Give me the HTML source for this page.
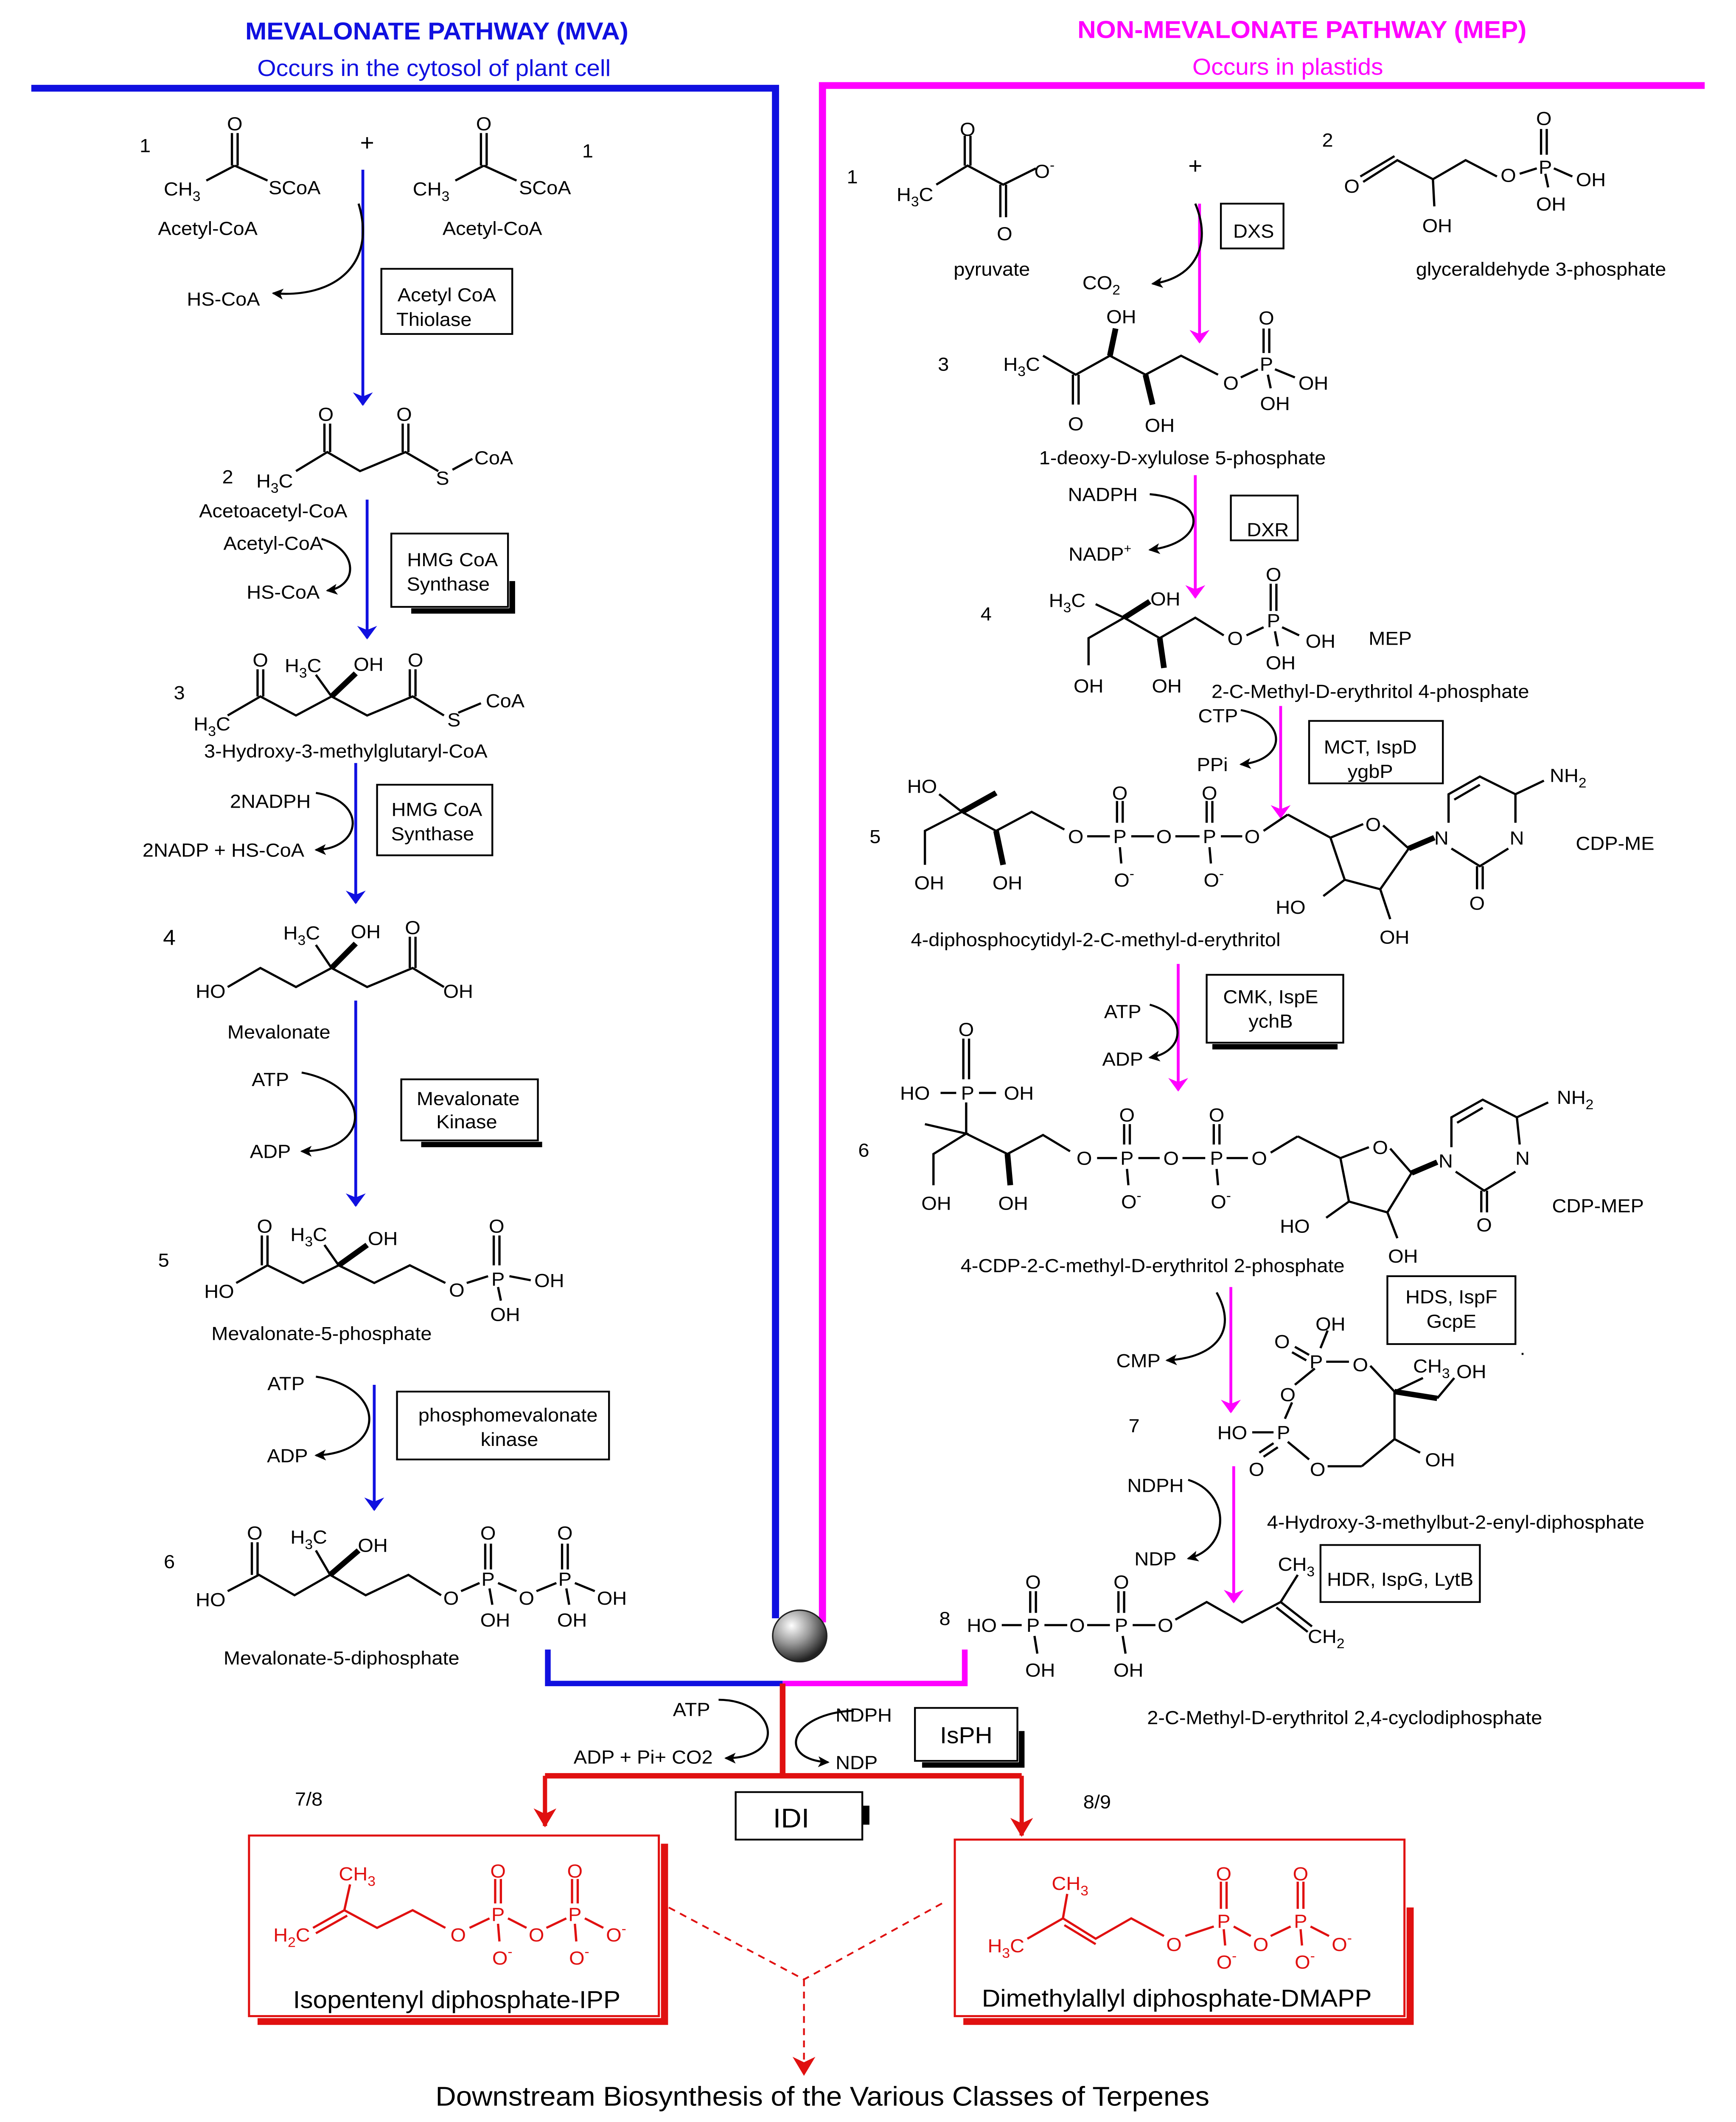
<!DOCTYPE html>
<html><head><meta charset="utf-8"><style>
html,body{margin:0;padding:0;background:#fff;width:100vw;height:100vh;overflow:hidden}
svg{display:block;position:absolute;left:0;top:0;width:100vw;height:100vh}
text{font-family:"Liberation Sans",Arial,sans-serif;font-size:14px;fill:#000}
.m{text-anchor:middle}
.b line,.b polyline,.b path{stroke:#000;stroke-width:1.6;fill:none}
.r line,.r polyline{stroke:#e01010;stroke-width:1.6;fill:none}
.r text{fill:#e01010}
</style></head><body>
<svg viewBox="0 0 1220 1563" preserveAspectRatio="none" xmlns="http://www.w3.org/2000/svg">
<defs>
<marker id="ab" markerWidth="10" markerHeight="14" refX="9" refY="7" orient="auto" markerUnits="userSpaceOnUse"><path d="M0,0 L10,7 L0,14 L3,7z" fill="#1010e0"/></marker>
<marker id="am" markerWidth="10" markerHeight="14" refX="9" refY="7" orient="auto" markerUnits="userSpaceOnUse"><path d="M0,0 L10,7 L0,14 L3,7z" fill="#ff00ff"/></marker>
<marker id="ar" markerWidth="14" markerHeight="16" refX="13" refY="8" orient="auto" markerUnits="userSpaceOnUse"><path d="M0,0 L14,8 L0,16 L4,8z" fill="#e01010"/></marker>
<marker id="ak" markerWidth="8" markerHeight="8" refX="7" refY="4" orient="auto" markerUnits="userSpaceOnUse"><path d="M0,0 L8,4 L0,8 L2,4z" fill="#000"/></marker>
<radialGradient id="ball" cx="0.35" cy="0.3" r="0.7"><stop offset="0" stop-color="#fff"/><stop offset="0.5" stop-color="#999"/><stop offset="1" stop-color="#222"/></radialGradient>
</defs>
<rect width="1220" height="1563" fill="#fff"/>

<text x="307" y="29" class="m" style="font-size:18px;font-weight:bold;fill:#1010e0">MEVALONATE PATHWAY (MVA)</text>
<text x="305" y="56" class="m" style="font-size:17px;fill:#1010e0">Occurs in the cytosol of plant cell</text>
<text x="915" y="28" class="m" style="font-size:18px;font-weight:bold;fill:#ff00ff">NON-MEVALONATE PATHWAY (MEP)</text>
<text x="905" y="55" class="m" style="font-size:17px;fill:#ff00ff">Occurs in plastids</text>

<polyline points="22,65 545,65 545,1192" stroke="#1010e0" stroke-width="5" fill="none"/>
<polyline points="1198,63 578,63 578,1195" stroke="#ff00ff" stroke-width="5" fill="none"/>
<polyline points="385,1215 385,1240 550,1240" stroke="#1010e0" stroke-width="4" fill="none"/>
<polyline points="678,1215 678,1240 550,1240" stroke="#ff00ff" stroke-width="4" fill="none"/>
<circle cx="562" cy="1205" r="19" fill="url(#ball)" stroke="#222" stroke-width="1"/>

<line x1="550" y1="1240" x2="550" y2="1308" stroke="#e01010" stroke-width="4"/>
<line x1="383" y1="1308" x2="718" y2="1308" stroke="#e01010" stroke-width="4"/>
<line x1="383" y1="1308" x2="383" y2="1345" stroke="#e01010" stroke-width="3" marker-end="url(#ar)"/>
<line x1="718" y1="1308" x2="718" y2="1352" stroke="#e01010" stroke-width="3" marker-end="url(#ar)"/>

<g stroke="#1010e0" stroke-width="2" fill="none">
<line x1="255" y1="125" x2="255" y2="298" marker-end="url(#ab)"/>
<line x1="258" y1="368" x2="258" y2="470" marker-end="url(#ab)"/>
<line x1="250" y1="562" x2="250" y2="665" marker-end="url(#ab)"/>
<line x1="250" y1="737" x2="250" y2="888" marker-end="url(#ab)"/>
<line x1="263" y1="1020" x2="263" y2="1112" marker-end="url(#ab)"/>
</g>
<g stroke="#ff00ff" stroke-width="2" fill="none">
<line x1="843" y1="150" x2="843" y2="252" marker-end="url(#am)"/>
<line x1="840" y1="350" x2="840" y2="440" marker-end="url(#am)"/>
<line x1="900" y1="520" x2="900" y2="602" marker-end="url(#am)"/>
<line x1="828" y1="710" x2="828" y2="803" marker-end="url(#am)"/>
<line x1="865" y1="948" x2="865" y2="1040" marker-end="url(#am)"/>
<line x1="867" y1="1080" x2="867" y2="1180" marker-end="url(#am)"/>
</g>

<g stroke="#000" stroke-width="1.5" fill="none">
<path d="M252,150 C265,195 235,220 192,216" marker-end="url(#ak)"/>
<path d="M226,397 C252,405 252,432 230,435" marker-end="url(#ak)"/>
<path d="M222,584 C258,590 255,625 222,626" marker-end="url(#ak)"/>
<path d="M212,790 C262,800 262,848 212,848" marker-end="url(#ak)"/>
<path d="M222,1014 C272,1022 272,1070 222,1072" marker-end="url(#ak)"/>
<path d="M840,150 C852,180 840,205 810,209" marker-end="url(#ak)"/>
<path d="M808,364 C850,368 848,400 808,405" marker-end="url(#ak)"/>
<path d="M872,523 C905,530 905,560 872,563" marker-end="url(#ak)"/>
<path d="M808,740 C835,748 833,775 808,779" marker-end="url(#ak)"/>
<path d="M855,952 C870,980 855,1000 820,1002" marker-end="url(#ak)"/>
<path d="M835,1090 C865,1100 865,1140 835,1148" marker-end="url(#ak)"/>
<path d="M505,1252 C545,1252 555,1295 510,1295" marker-end="url(#ak)"/>
<path d="M600,1260 C555,1262 545,1296 582,1298" marker-end="url(#ak)"/>
</g>

<g fill="none" stroke="#000" stroke-width="1.3">
<rect x="268" y="198" width="92" height="48"/>
<rect x="275" y="393" width="82" height="54"/>
<rect x="265" y="578" width="81" height="52"/>
<rect x="282" y="795" width="96" height="45"/>
<rect x="279" y="1025" width="149" height="50"/>
<rect x="858" y="150" width="44" height="33"/>
<rect x="865" y="365" width="47" height="33"/>
<rect x="920" y="531" width="94" height="46"/>
<rect x="848" y="718" width="96" height="50"/>
<rect x="975" y="940" width="90" height="50"/>
<rect x="928" y="1138" width="112" height="42"/>
<rect x="643" y="1258" width="72" height="39"/>
<rect x="517" y="1320" width="89" height="35"/>
</g>
<g stroke="#000" stroke-width="4" fill="none">
<polyline points="289,450 360,450 360,428"/>
<polyline points="296,843 381,843"/>
<polyline points="852,771 940,771"/>
<polyline points="648,1300 718,1300 718,1275"/>
</g>
<rect x="606" y="1330" width="5" height="14" fill="#000"/>
<text x="314" y="222" class="m">Acetyl CoA</text><text x="305" y="240" class="m">Thiolase</text>
<text x="318" y="417" class="m">HMG CoA</text><text x="315" y="435" class="m">Synthase</text>
<text x="307" y="601" class="m">HMG CoA</text><text x="304" y="619" class="m">Synthase</text>
<text x="329" y="814" class="m">Mevalonate</text><text x="328" y="831" class="m">Kinase</text>
<text x="357" y="1047" class="m">phosphomevalonate</text><text x="358" y="1065" class="m">kinase</text>
<text x="881" y="175" class="m">DXS</text>
<text x="891" y="395" class="m">DXR</text>
<text x="963" y="555" class="m">MCT, IspD</text><text x="963" y="573" class="m">ygbP</text>
<text x="893" y="739" class="m">CMK, IspE</text><text x="893" y="757" class="m">ychB</text>
<text x="1020" y="960" class="m">HDS, IspF</text><text x="1020" y="978" class="m">GcpE</text>
<text x="984" y="1168" class="m">HDR, IspG, LytB</text>
<text x="679" y="1284" class="m" style="font-size:17px">IsPH</text>
<text x="556" y="1346" class="m" style="font-size:20px">IDI</text>

<text x="157" y="225" class="m">HS-CoA</text>
<text x="192" y="405" class="m">Acetyl-CoA</text>
<text x="199" y="441" class="m">HS-CoA</text>
<text x="190" y="595" class="m">2NADPH</text>
<text x="157" y="631" class="m">2NADP + HS-CoA</text>
<text x="190" y="800" class="m">ATP</text><text x="190" y="853" class="m">ADP</text>
<text x="201" y="1024" class="m">ATP</text><text x="202" y="1077" class="m">ADP</text>
<text x="774" y="213" class="m">CO<tspan dy="4" style="font-size:10px">2</tspan></text>
<text x="775" y="369" class="m">NADPH</text>
<text x="773" y="413" class="m">NADP<tspan dy="-6" style="font-size:9px">+</tspan></text>
<text x="856" y="532" class="m">CTP</text><text x="852" y="568" class="m">PPi</text>
<text x="789" y="750" class="m">ATP</text><text x="789" y="785" class="m">ADP</text>
<text x="800" y="1007" class="m">CMP</text>
<text x="812" y="1099" class="m">NDPH</text><text x="812" y="1153" class="m">NDP</text>
<text x="486" y="1264" class="m">ATP</text>
<text x="607" y="1268" class="m">NDPH</text>
<text x="452" y="1299" class="m">ADP + Pi+ CO2</text>
<text x="602" y="1303" class="m">NDP</text>
<text x="217" y="1330" class="m">7/8</text>
<text x="771" y="1332" class="m">8/9</text>

<g class="b">
<line x1="145" y1="133" x2="165" y2="122"/><line x1="165" y1="122" x2="188" y2="133"/>
<line x1="163" y1="98" x2="163" y2="122"/><line x1="167" y1="98" x2="167" y2="122"/>
<line x1="320" y1="133" x2="340" y2="122"/><line x1="340" y1="122" x2="363" y2="133"/>
<line x1="338" y1="98" x2="338" y2="122"/><line x1="342" y1="98" x2="342" y2="122"/>
<polyline points="208,347 230,333 253,347 285,333 308,347"/>
<line x1="228" y1="312" x2="228" y2="333"/><line x1="232" y1="312" x2="232" y2="333"/>
<line x1="283" y1="312" x2="283" y2="333"/><line x1="287" y1="312" x2="287" y2="333"/>
<line x1="318" y1="346" x2="332" y2="338"/>
<polyline points="160,527 183,513 208,527 233,513 258,527 290,513 312,527"/>
<line x1="181" y1="493" x2="181" y2="513"/><line x1="185" y1="493" x2="185" y2="513"/>
<line x1="288" y1="493" x2="288" y2="513"/><line x1="292" y1="493" x2="292" y2="513"/>
<line x1="233" y1="513" x2="222" y2="497"/><line x1="233" y1="513" x2="250" y2="496" style="stroke-width:4"/>
<line x1="322" y1="525" x2="338" y2="518"/>
<polyline points="160,727 183,713 208,727 233,713 258,727 290,713 312,727"/>
<line x1="288" y1="690" x2="288" y2="713"/><line x1="292" y1="690" x2="292" y2="713"/>
<line x1="233" y1="713" x2="222" y2="696"/><line x1="233" y1="713" x2="250" y2="695" style="stroke-width:4"/>
<polyline points="166,945 188,932 213,945 238,932 263,945 288,932 313,945"/>
<line x1="184" y1="910" x2="184" y2="932"/><line x1="188" y1="910" x2="188" y2="932"/>
<line x1="238" y1="932" x2="228" y2="917"/><line x1="238" y1="932" x2="258" y2="917" style="stroke-width:4"/>
<line x1="328" y1="945" x2="343" y2="940"/><line x1="358" y1="940" x2="373" y2="943"/>
<line x1="347" y1="910" x2="347" y2="932"/><line x1="351" y1="910" x2="351" y2="932"/>
<line x1="350" y1="948" x2="352" y2="958"/>
<polyline points="160,1172 182,1160 207,1175 232,1160 257,1175 287,1160 310,1175"/>
<line x1="177" y1="1136" x2="177" y2="1160"/><line x1="181" y1="1136" x2="181" y2="1160"/>
<line x1="232" y1="1160" x2="222" y2="1142"/><line x1="232" y1="1160" x2="252" y2="1142" style="stroke-width:4"/>
<line x1="324" y1="1172" x2="337" y2="1166"/><line x1="350" y1="1166" x2="363" y2="1172"/>
<line x1="377" y1="1172" x2="391" y2="1166"/><line x1="404" y1="1166" x2="418" y2="1172"/>
<line x1="341" y1="1137" x2="341" y2="1156"/><line x1="345" y1="1137" x2="345" y2="1156"/>
<line x1="395" y1="1137" x2="395" y2="1156"/><line x1="399" y1="1137" x2="399" y2="1156"/>
<line x1="344" y1="1170" x2="346" y2="1182"/><line x1="398" y1="1170" x2="400" y2="1182"/>
</g>
<text x="102" y="112" class="m">1</text>
<text x="165" y="96" class="m">O</text>
<text x="128" y="144" class="m">CH<tspan dy="4" style="font-size:10px">3</tspan></text>
<text x="207" y="143" class="m">SCoA</text>
<text x="258" y="111" class="m" style="font-size:17px">+</text>
<text x="340" y="96" class="m">O</text>
<text x="303" y="144" class="m">CH<tspan dy="4" style="font-size:10px">3</tspan></text>
<text x="383" y="143" class="m">SCoA</text>
<text x="413" y="116" class="m">1</text>
<text x="146" y="173" class="m">Acetyl-CoA</text>
<text x="346" y="173" class="m">Acetyl-CoA</text>

<text x="160" y="356" class="m">2</text>
<text x="193" y="359" class="m">H<tspan dy="4" style="font-size:10px">3</tspan><tspan dy="-4">C</tspan></text>
<text x="229" y="310" class="m">O</text><text x="284" y="310" class="m">O</text>
<text x="311" y="357" class="m">S</text><text x="347" y="342" class="m">CoA</text>
<text x="192" y="381" class="m">Acetoacetyl-CoA</text>

<text x="126" y="515" class="m">3</text>
<text x="149" y="538" class="m">H<tspan dy="4" style="font-size:10px">3</tspan><tspan dy="-4">C</tspan></text>
<text x="183" y="491" class="m">O</text><text x="292" y="491" class="m">O</text>
<text x="213" y="495" class="m">H<tspan dy="4" style="font-size:10px">3</tspan><tspan dy="-4">C</tspan></text>
<text x="259" y="494" class="m">OH</text>
<text x="319" y="535" class="m">S</text><text x="355" y="521" class="m">CoA</text>
<text x="243" y="558" class="m">3-Hydroxy-3-methylglutaryl-CoA</text>

<text x="119" y="696" class="m" style="font-size:16px">4</text>
<text x="148" y="735" class="m">HO</text>
<text x="212" y="692" class="m">H<tspan dy="4" style="font-size:10px">3</tspan><tspan dy="-4">C</tspan></text>
<text x="257" y="691" class="m">OH</text>
<text x="290" y="688" class="m">O</text>
<text x="322" y="735" class="m">OH</text>
<text x="196" y="765" class="m">Mevalonate</text>

<text x="115" y="933" class="m">5</text>
<text x="154" y="956" class="m">HO</text>
<text x="186" y="908" class="m">O</text>
<text x="217" y="914" class="m">H<tspan dy="4" style="font-size:10px">3</tspan><tspan dy="-4">C</tspan></text>
<text x="269" y="917" class="m">OH</text>
<text x="321" y="955" class="m">O</text><text x="350" y="947" class="m">P</text>
<text x="349" y="908" class="m">O</text><text x="386" y="948" class="m">OH</text>
<text x="355" y="973" class="m">OH</text>
<text x="226" y="987" class="m">Mevalonate-5-phosphate</text>

<text x="119" y="1155" class="m">6</text>
<text x="148" y="1183" class="m">HO</text>
<text x="179" y="1134" class="m">O</text>
<text x="217" y="1137" class="m">H<tspan dy="4" style="font-size:10px">3</tspan><tspan dy="-4">C</tspan></text>
<text x="262" y="1143" class="m">OH</text>
<text x="317" y="1182" class="m">O</text><text x="343" y="1168" class="m">P</text>
<text x="370" y="1182" class="m">O</text><text x="397" y="1168" class="m">P</text>
<text x="430" y="1182" class="m">OH</text>
<text x="343" y="1134" class="m">O</text><text x="397" y="1134" class="m">O</text>
<text x="348" y="1198" class="m">OH</text><text x="402" y="1198" class="m">OH</text>
<text x="240" y="1226" class="m">Mevalonate-5-diphosphate</text>

<g class="b">
<polyline points="658,136 680,122 705,136 728,124"/>
<line x1="678" y1="100" x2="678" y2="122"/><line x1="682" y1="100" x2="682" y2="122"/>
<line x1="703" y1="136" x2="703" y2="160"/><line x1="707" y1="136" x2="707" y2="160"/>
<polyline points="958,134 982,118 1007,132 1030,118 1052,130"/>
<line x1="956" y1="130" x2="980" y2="115"/>
<line x1="1007" y1="132" x2="1008" y2="152"/>
<line x1="1068" y1="128" x2="1080" y2="124"/><line x1="1092" y1="124" x2="1105" y2="130"/>
<line x1="1083" y1="95" x2="1083" y2="114"/><line x1="1087" y1="95" x2="1087" y2="114"/>
<line x1="1086" y1="128" x2="1088" y2="138"/>
<polyline points="733,262 756,276 780,262 805,276 830,262 856,276"/>
<line x1="754" y1="276" x2="754" y2="298"/><line x1="758" y1="276" x2="758" y2="298"/>
<line x1="780" y1="262" x2="784" y2="242" style="stroke-width:4"/>
<line x1="805" y1="276" x2="810" y2="298" style="stroke-width:4"/>
<line x1="872" y1="278" x2="884" y2="272"/><line x1="896" y1="272" x2="910" y2="278"/>
<line x1="888" y1="242" x2="888" y2="260"/><line x1="892" y1="242" x2="892" y2="260"/>
<line x1="891" y1="276" x2="893" y2="286"/>
<polyline points="765,490 765,470 790,455 815,470 840,455 860,468"/>
<line x1="790" y1="455" x2="770" y2="445"/>
<line x1="790" y1="455" x2="808" y2="443" style="stroke-width:4"/>
<line x1="815" y1="470" x2="818" y2="492" style="stroke-width:4"/>
<line x1="876" y1="468" x2="888" y2="462"/><line x1="901" y1="462" x2="913" y2="468"/>
<line x1="893" y1="430" x2="893" y2="450"/><line x1="897" y1="430" x2="897" y2="450"/>
<line x1="896" y1="465" x2="898" y2="476"/>
<polyline points="660,585 676,598 650,612 650,637"/>
<line x1="676" y1="598" x2="700" y2="584" style="stroke-width:4"/>
<polyline points="676,598 700,612 725,598 748,611"/>
<line x1="700" y1="612" x2="705" y2="637" style="stroke-width:4"/>
<line x1="764" y1="616" x2="780" y2="616"/><line x1="795" y1="616" x2="811" y2="616"/>
<line x1="826" y1="616" x2="843" y2="616"/><line x1="858" y1="616" x2="873" y2="616"/>
<line x1="785" y1="590" x2="785" y2="606"/><line x1="789" y1="590" x2="789" y2="606"/>
<line x1="848" y1="590" x2="848" y2="606"/><line x1="852" y1="590" x2="852" y2="606"/>
<line x1="787" y1="624" x2="788" y2="636"/><line x1="850" y1="624" x2="851" y2="636"/>
<line x1="888" y1="612" x2="905" y2="600"/>
<polyline points="905,600 935,617 958,607"/>
<polyline points="972,608 990,625 970,655 945,648 935,617"/>
<line x1="945" y1="648" x2="930" y2="660"/>
<line x1="970" y1="655" x2="977" y2="677"/>
<line x1="990" y1="625" x2="1008" y2="617" style="stroke-width:4"/>
<polyline points="1018,606 1018,585 1040,572 1065,585 1065,606"/>
<line x1="1022" y1="589" x2="1040" y2="578"/>
<polyline points="1020,625 1040,638 1060,625"/>
<line x1="1038" y1="638" x2="1038" y2="655"/><line x1="1042" y1="638" x2="1042" y2="655"/>
<line x1="1065" y1="585" x2="1085" y2="575"/>
<line x1="661" y1="805" x2="672" y2="805"/><line x1="688" y1="805" x2="700" y2="805"/>
<line x1="677" y1="765" x2="677" y2="795"/><line x1="681" y1="765" x2="681" y2="795"/>
<line x1="679" y1="812" x2="679" y2="835"/>
<polyline points="650,828 679,835 656,850 656,873"/>
<polyline points="679,835 708,850 733,836 752,848"/>
<line x1="708" y1="850" x2="710" y2="873" style="stroke-width:4"/>
<line x1="771" y1="853" x2="785" y2="853"/><line x1="800" y1="853" x2="815" y2="853"/>
<line x1="831" y1="853" x2="847" y2="853"/><line x1="862" y1="853" x2="877" y2="853"/>
<line x1="790" y1="828" x2="790" y2="843"/><line x1="794" y1="828" x2="794" y2="843"/>
<line x1="853" y1="828" x2="853" y2="843"/><line x1="857" y1="828" x2="857" y2="843"/>
<line x1="792" y1="861" x2="793" y2="873"/><line x1="855" y1="861" x2="856" y2="873"/>
<line x1="893" y1="849" x2="912" y2="837"/>
<polyline points="912,837 942,853 962,845"/>
<polyline points="977,846 992,864 975,893 948,885 942,853"/>
<line x1="948" y1="885" x2="932" y2="897"/>
<line x1="975" y1="893" x2="982" y2="912"/>
<line x1="992" y1="864" x2="1010" y2="856" style="stroke-width:4"/>
<polyline points="1020,845 1020,823 1042,810 1066,823 1068,843"/>
<line x1="1024" y1="827" x2="1042" y2="816"/>
<polyline points="1023,863 1043,877 1065,863"/>
<line x1="1041" y1="877" x2="1041" y2="893"/><line x1="1045" y1="877" x2="1045" y2="893"/>
<line x1="1066" y1="823" x2="1088" y2="812"/>
<line x1="928" y1="993" x2="933" y2="980"/>
<line x1="910" y1="992" x2="920" y2="998"/><line x1="908" y1="996" x2="918" y2="1002"/>
<line x1="932" y1="1003" x2="948" y2="1003"/>
<line x1="963" y1="1006" x2="980" y2="1025"/>
<line x1="924" y1="1008" x2="910" y2="1020"/>
<line x1="908" y1="1033" x2="903" y2="1045"/>
<line x1="880" y1="1055" x2="895" y2="1055"/>
<line x1="895" y1="1063" x2="885" y2="1070"/><line x1="898" y1="1066" x2="888" y2="1073"/>
<line x1="905" y1="1062" x2="920" y2="1075"/>
<line x1="933" y1="1080" x2="957" y2="1080"/><line x1="957" y1="1080" x2="980" y2="1060"/>
<line x1="980" y1="1025" x2="980" y2="1060"/>
<line x1="980" y1="1025" x2="1000" y2="1015"/>
<line x1="980" y1="1025" x2="1010" y2="1030" style="stroke-width:4"/>
<line x1="1010" y1="1030" x2="1022" y2="1015"/>
<line x1="980" y1="1060" x2="998" y2="1070"/>
<line x1="704" y1="1197" x2="718" y2="1197"/><line x1="734" y1="1197" x2="750" y2="1197"/>
<line x1="764" y1="1197" x2="780" y2="1197"/><line x1="796" y1="1197" x2="812" y2="1197"/>
<line x1="724" y1="1172" x2="724" y2="1188"/><line x1="728" y1="1172" x2="728" y2="1188"/>
<line x1="786" y1="1172" x2="786" y2="1188"/><line x1="790" y1="1172" x2="790" y2="1188"/>
<line x1="727" y1="1205" x2="729" y2="1218"/><line x1="789" y1="1205" x2="791" y2="1218"/>
<polyline points="826,1193 848,1180 873,1195 900,1180 912,1160"/>
<line x1="900" y1="1180" x2="922" y2="1198"/><line x1="897" y1="1184" x2="919" y2="1202"/>
</g>
<text x="599" y="135" class="m">1</text>
<text x="643" y="148" class="m">H<tspan dy="4" style="font-size:10px">3</tspan><tspan dy="-4">C</tspan></text>
<text x="680" y="100" class="m">O</text>
<text x="734" y="131" class="m">O<tspan dy="-6" style="font-size:10px">-</tspan></text>
<text x="706" y="177" class="m">O</text>
<text x="697" y="203" class="m">pyruvate</text>
<text x="840" y="128" class="m" style="font-size:17px">+</text>
<text x="933" y="108" class="m">2</text>
<text x="950" y="142" class="m">O</text>
<text x="1010" y="171" class="m">OH</text>
<text x="1060" y="134" class="m">O</text>
<text x="1086" y="128" class="m">P</text>
<text x="1085" y="92" class="m">O</text>
<text x="1118" y="137" class="m">OH</text>
<text x="1090" y="155" class="m">OH</text>
<text x="1083" y="203" class="m">glyceraldehyde 3-phosphate</text>

<text x="663" y="273" class="m">3</text>
<text x="718" y="273" class="m">H<tspan dy="4" style="font-size:10px">3</tspan><tspan dy="-4">C</tspan></text>
<text x="788" y="238" class="m">OH</text>
<text x="756" y="317" class="m">O</text>
<text x="815" y="318" class="m">OH</text>
<text x="865" y="287" class="m">O</text><text x="890" y="273" class="m">P</text>
<text x="890" y="239" class="m">O</text><text x="923" y="287" class="m">OH</text>
<text x="896" y="302" class="m">OH</text>
<text x="831" y="342" class="m">1-deoxy-D-xylulose 5-phosphate</text>

<text x="693" y="457" class="m">4</text>
<text x="750" y="447" class="m">H<tspan dy="4" style="font-size:10px">3</tspan><tspan dy="-4">C</tspan></text>
<text x="819" y="446" class="m">OH</text>
<text x="765" y="510" class="m">OH</text>
<text x="820" y="510" class="m">OH</text>
<text x="868" y="475" class="m">O</text><text x="895" y="462" class="m">P</text>
<text x="895" y="428" class="m">O</text><text x="928" y="477" class="m">OH</text>
<text x="900" y="493" class="m">OH</text>
<text x="977" y="475" class="m">MEP</text>
<text x="963" y="514" class="m">2-C-Methyl-D-erythritol 4-phosphate</text>

<text x="615" y="621" class="m">5</text>
<text x="648" y="584" class="m">HO</text>
<text x="653" y="655" class="m">OH</text><text x="708" y="655" class="m">OH</text>
<text x="756" y="621" class="m">O</text><text x="787" y="621" class="m">P</text>
<text x="818" y="621" class="m">O</text><text x="850" y="621" class="m">P</text>
<text x="880" y="621" class="m">O</text>
<text x="787" y="589" class="m">O</text><text x="850" y="589" class="m">O</text>
<text x="790" y="653" class="m">O<tspan dy="-6" style="font-size:10px">-</tspan></text>
<text x="853" y="653" class="m">O<tspan dy="-6" style="font-size:10px">-</tspan></text>
<text x="965" y="612" class="m">O</text>
<text x="907" y="673" class="m">HO</text>
<text x="980" y="695" class="m">OH</text>
<text x="1013" y="622" class="m">N</text><text x="1066" y="622" class="m">N</text>
<text x="1038" y="670" class="m">O</text>
<text x="1102" y="576" class="m">NH<tspan dy="4" style="font-size:10px">2</tspan></text>
<text x="1135" y="626" class="m">CDP-ME</text>
<text x="770" y="697" class="m">4-diphosphocytidyl-2-C-methyl-d-erythritol</text>

<text x="607" y="852" class="m">6</text>
<text x="643" y="810" class="m">HO</text><text x="680" y="810" class="m">P</text>
<text x="716" y="810" class="m">OH</text><text x="679" y="763" class="m">O</text>
<text x="658" y="891" class="m">OH</text><text x="712" y="891" class="m">OH</text>
<text x="762" y="858" class="m">O</text><text x="792" y="858" class="m">P</text>
<text x="823" y="858" class="m">O</text><text x="855" y="858" class="m">P</text>
<text x="885" y="858" class="m">O</text>
<text x="792" y="826" class="m">O</text><text x="855" y="826" class="m">O</text>
<text x="795" y="890" class="m">O<tspan dy="-6" style="font-size:10px">-</tspan></text>
<text x="858" y="890" class="m">O<tspan dy="-6" style="font-size:10px">-</tspan></text>
<text x="970" y="850" class="m">O</text>
<text x="910" y="908" class="m">HO</text><text x="986" y="930" class="m">OH</text>
<text x="1016" y="860" class="m">N</text><text x="1070" y="858" class="m">N</text>
<text x="1043" y="907" class="m">O</text>
<text x="1107" y="813" class="m">NH<tspan dy="4" style="font-size:10px">2</tspan></text>
<text x="1123" y="893" class="m">CDP-MEP</text>
<text x="810" y="937" class="m">4-CDP-2-C-methyl-D-erythritol 2-phosphate</text>

<text x="935" y="980" class="m">OH</text>
<text x="901" y="993" class="m">O</text>
<text x="925" y="1008" class="m">P</text>
<text x="956" y="1010" class="m">O</text>
<text x="1006" y="1011" class="m">CH<tspan dy="4" style="font-size:10px">3</tspan></text>
<text x="1034" y="1015" class="m">OH</text>
<text x="905" y="1032" class="m">O</text>
<text x="866" y="1060" class="m">HO</text><text x="902" y="1060" class="m">P</text>
<text x="883" y="1087" class="m">O</text><text x="926" y="1087" class="m">O</text>
<text x="1012" y="1080" class="m">OH</text>
<text x="797" y="1055" class="m">7</text>
<text x="1023" y="1126" class="m">4-Hydroxy-3-methylbut-2-enyl-diphosphate</text>
<text x="1070" y="998" class="m">.</text>

<text x="664" y="1197" class="m">8</text>
<text x="690" y="1202" class="m">HO</text><text x="726" y="1202" class="m">P</text>
<text x="757" y="1202" class="m">O</text><text x="788" y="1202" class="m">P</text>
<text x="819" y="1202" class="m">O</text>
<text x="726" y="1170" class="m">O</text><text x="788" y="1170" class="m">O</text>
<text x="731" y="1235" class="m">OH</text><text x="793" y="1235" class="m">OH</text>
<text x="911" y="1157" class="m">CH<tspan dy="4" style="font-size:10px">3</tspan></text>
<text x="932" y="1210" class="m">CH<tspan dy="4" style="font-size:10px">2</tspan></text>
<text x="945" y="1270" class="m">2-C-Methyl-D-erythritol 2,4-cyclodiphosphate</text>

<rect x="175" y="1352" width="288" height="133" fill="none" stroke="#e01010" stroke-width="1.5"/>
<polyline points="181,1489 467,1489 467,1358" fill="none" stroke="#e01010" stroke-width="5"/>
<rect x="671" y="1355" width="316" height="130" fill="none" stroke="#e01010" stroke-width="1.5"/>
<polyline points="677,1489 991,1489 991,1405" fill="none" stroke="#e01010" stroke-width="5"/>
<g class="r">
<polyline points="220,1420 242,1407 265,1420 290,1407 313,1420"/>
<line x1="222" y1="1424" x2="244" y2="1411"/>
<line x1="242" y1="1407" x2="246" y2="1388"/>
<line x1="330" y1="1420" x2="344" y2="1413"/><line x1="357" y1="1413" x2="370" y2="1420"/>
<line x1="384" y1="1420" x2="398" y2="1413"/><line x1="411" y1="1413" x2="424" y2="1420"/>
<line x1="348" y1="1384" x2="348" y2="1402"/><line x1="352" y1="1384" x2="352" y2="1402"/>
<line x1="402" y1="1384" x2="402" y2="1402"/><line x1="406" y1="1384" x2="406" y2="1402"/>
<line x1="350" y1="1417" x2="351" y2="1430"/><line x1="404" y1="1417" x2="405" y2="1430"/>
<polyline points="722,1428 747,1413 770,1428 795,1413 818,1426"/>
<line x1="748" y1="1418" x2="770" y2="1432"/>
<line x1="747" y1="1413" x2="750" y2="1395"/>
<line x1="833" y1="1426" x2="853" y2="1419"/><line x1="867" y1="1419" x2="879" y2="1426"/>
<line x1="893" y1="1426" x2="907" y2="1419"/><line x1="921" y1="1419" x2="934" y2="1426"/>
<line x1="858" y1="1386" x2="858" y2="1406"/><line x1="862" y1="1386" x2="862" y2="1406"/>
<line x1="912" y1="1386" x2="912" y2="1406"/><line x1="916" y1="1386" x2="916" y2="1406"/>
<line x1="860" y1="1421" x2="861" y2="1433"/><line x1="914" y1="1421" x2="915" y2="1433"/>
<text x="251" y="1385" class="m">CH<tspan dy="4" style="font-size:10px">3</tspan></text>
<text x="205" y="1430" class="m">H<tspan dy="4" style="font-size:10px">2</tspan><tspan dy="-4">C</tspan></text>
<text x="322" y="1430" class="m">O</text><text x="350" y="1415" class="m">P</text>
<text x="377" y="1430" class="m">O</text><text x="404" y="1415" class="m">P</text>
<text x="433" y="1430" class="m">O<tspan dy="-6" style="font-size:10px">-</tspan></text>
<text x="350" y="1383" class="m">O</text><text x="404" y="1383" class="m">O</text>
<text x="353" y="1447" class="m">O<tspan dy="-6" style="font-size:10px">-</tspan></text>
<text x="407" y="1447" class="m">O<tspan dy="-6" style="font-size:10px">-</tspan></text>
<text x="752" y="1392" class="m">CH<tspan dy="4" style="font-size:10px">3</tspan></text>
<text x="707" y="1438" class="m">H<tspan dy="4" style="font-size:10px">3</tspan><tspan dy="-4">C</tspan></text>
<text x="825" y="1437" class="m">O</text><text x="860" y="1420" class="m">P</text>
<text x="886" y="1437" class="m">O</text><text x="914" y="1420" class="m">P</text>
<text x="943" y="1437" class="m">O<tspan dy="-6" style="font-size:10px">-</tspan></text>
<text x="860" y="1385" class="m">O</text><text x="914" y="1385" class="m">O</text>
<text x="862" y="1450" class="m">O<tspan dy="-6" style="font-size:10px">-</tspan></text>
<text x="917" y="1450" class="m">O<tspan dy="-6" style="font-size:10px">-</tspan></text>
</g>
<text x="321" y="1479" class="m" style="font-size:18px">Isopentenyl diphosphate-IPP</text>
<text x="827" y="1478" class="m" style="font-size:18px">Dimethylallyl diphosphate-DMAPP</text>

<g stroke="#e01010" stroke-width="1.3" stroke-dasharray="5,4" fill="none">
<line x1="470" y1="1405" x2="565" y2="1458"/>
<line x1="662" y1="1402" x2="565" y2="1458"/>
<line x1="565" y1="1458" x2="565" y2="1528" marker-end="url(#ar)"/>
</g>
<text x="578" y="1551" class="m" style="font-size:20px">Downstream Biosynthesis of the Various Classes of Terpenes</text>
</svg>
</body></html>
